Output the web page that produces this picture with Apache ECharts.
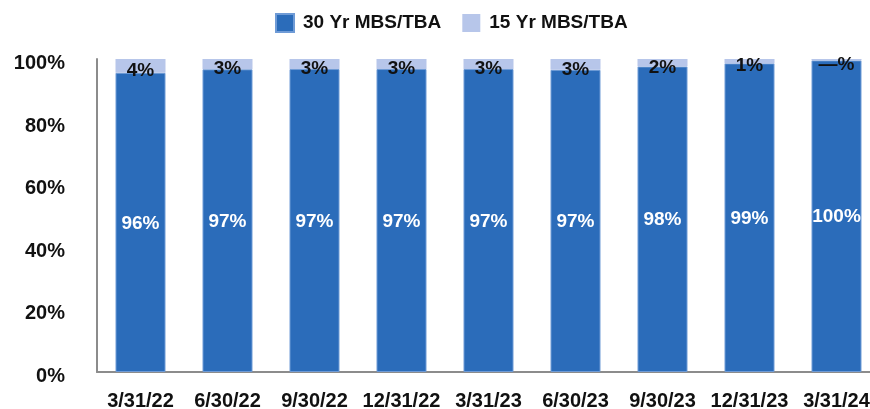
<!DOCTYPE html>
<html><head><meta charset="utf-8">
<script src="https://cdn.jsdelivr.net/npm/echarts@6/dist/echarts.min.js"></script>
<style>html,body{margin:0;padding:0;background:#fff}#c{width:870px;height:409px}</style>
</head><body><div id="c"></div>
<script>
const categories = ['3/31/22','6/30/22','9/30/22','12/31/22','3/31/23','6/30/23','9/30/23','12/31/23','3/31/24'];
const seriesNames = ['30 Yr MBS/TBA','15 Yr MBS/TBA'];
const mbs15 = [4.4, 3.3, 3.2, 3.2, 3.2, 3.45, 2.4, 1.4, 0.45];
const mbs30 = [95.6, 96.7, 96.8, 96.8, 96.8, 96.55, 97.6, 98.6, 99.55];
const yTicks = [0, 20, 40, 60, 80, 100];

const font = '"Liberation Sans", Arial, sans-serif';
const pct = v => { const r = Math.round(v); return (r === 0 ? '\u2014' : r) + '%'; };

const chart = echarts.init(document.getElementById('c'));
chart.setOption({
  animation: false,
  legend: {
    top: 8, left: 270,
    itemWidth: 18, itemHeight: 18, itemGap: 21,
    icon: 'rect',
    textStyle: { fontFamily: font, fontWeight: 'bold', fontSize: 19, color: '#111', padding: [0,0,0,4] },
    data: seriesNames
  },
  grid: { left: 97, top: 59, height: 313, width: 783, outerBoundsMode: 'none' },
  xAxis: {
    type: 'category', data: categories,
    axisLine: { lineStyle: { color: '#8c8c8c', width: 2 } },
    axisTick: { show: false },
    axisLabel: { fontFamily: font, fontWeight: 'bold', fontSize: 20, color: '#111', margin: 19, interval: 0 }
  },
  yAxis: {
    type: 'value', min: yTicks[0], max: yTicks[yTicks.length-1], interval: 20,
    axisLine: { show: true, lineStyle: { color: '#8c8c8c', width: 2 } },
    axisTick: { show: false },
    splitLine: { show: false },
    axisLabel: { fontFamily: font, fontWeight: 'bold', fontSize: 20, color: '#111', margin: 32, verticalAlign: 'top', lineHeight: 9, formatter: v => v + '%' }
  },
  series: [
    {
      name: seriesNames[0], type: 'bar', stack: 's', barWidth: 50,
      data: mbs30,
      itemStyle: { color: '#2b6cba', borderColor: '#6f9bd6', borderWidth: 1 },
      label: { show: true, position: 'inside', offset: [0, 1], color: '#fff', fontFamily: font, fontWeight: 'bold', fontSize: 19, formatter: p => pct(p.value) }
    },
    {
      name: seriesNames[1], type: 'bar', stack: 's', barWidth: 50,
      data: mbs15,
      itemStyle: { color: '#b7c6ea' },
      label: { show: true, position: 'inside', offset: [0, 5], color: '#111', fontFamily: font, fontWeight: 'bold', fontSize: 19, formatter: p => pct(p.value) }
    }
  ]
});
</script>
</body></html>
